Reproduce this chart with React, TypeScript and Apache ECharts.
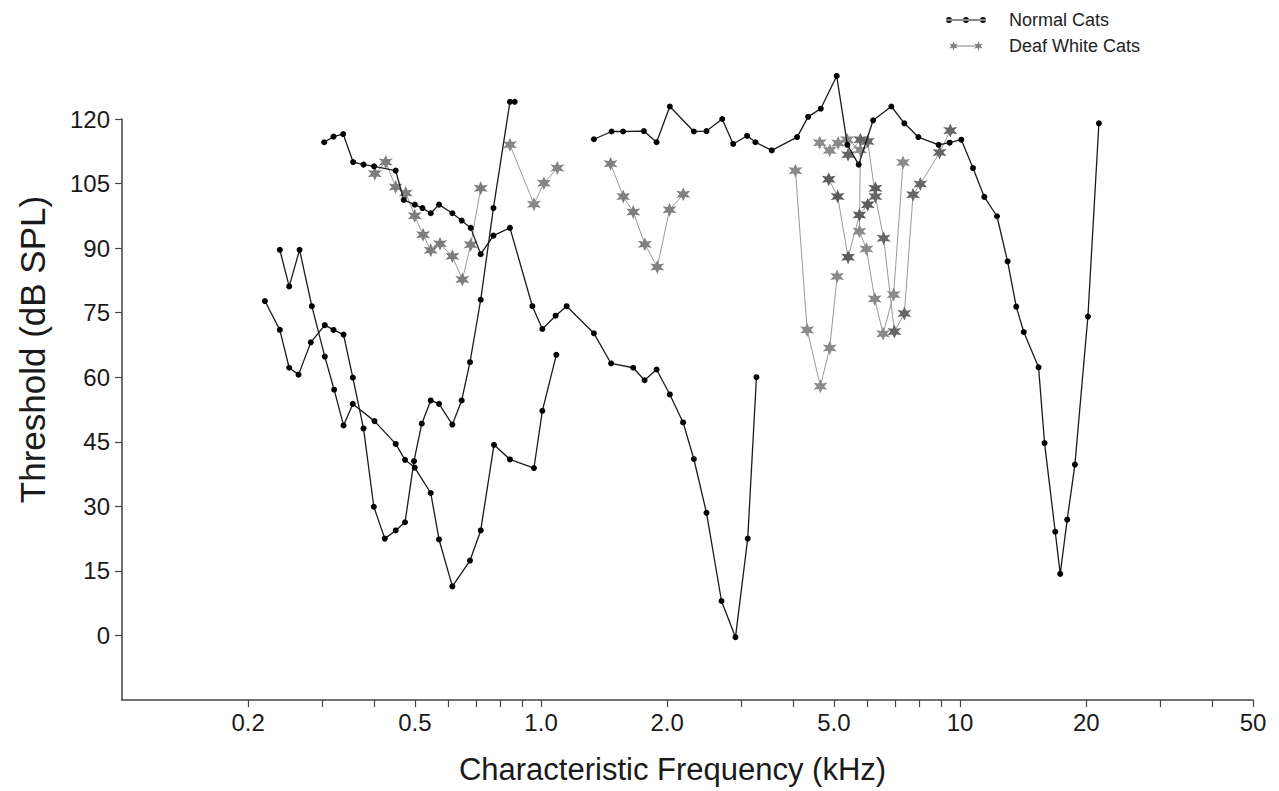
import React, { useEffect, useRef } from "react";
import * as echarts from "echarts";

// ---- axis ticks / labels ----
const FREQ_TICKS = [0.2, 0.3, 0.4, 0.5, 0.6, 0.7, 0.8, 0.9, 1, 2, 3, 4, 5, 6, 7, 8, 9, 10, 20, 30, 40, 50];
const FREQ_LABEL_VALUES = [0.2, 0.5, 1, 2, 5, 10, 20, 50];
const FREQ_LABELS = ["0.2", "0.5", "1.0", "2.0", "5.0", "10", "20", "50"];
const DB_TICKS = [0, 15, 30, 45, 60, 75, 90, 105, 120];

// ---- Normal cats tuning curves (kHz, dB SPL) ----
const normalA_f = [0.2193, 0.238, 0.2506, 0.2638, 0.2822, 0.3048, 0.3197, 0.3378, 0.3555, 0.377, 0.399, 0.4237, 0.4499, 0.4736, 0.4975, 0.5192, 0.5455, 0.5709, 0.6143, 0.6465, 0.6768, 0.7178, 0.7697, 0.8429, 0.8651];
const normalA_db = [77.7, 71.0, 62.2, 60.6, 68.1, 72.1, 71.0, 69.9, 59.9, 48.1, 29.9, 22.5, 24.4, 26.3, 40.5, 49.2, 54.6, 53.8, 49.0, 54.6, 63.5, 78.0, 99.3, 124.0, 124.0];

const normalB_f = [0.238, 0.2506, 0.2653, 0.2838, 0.3048, 0.3208, 0.3378, 0.3555, 0.4005, 0.4499, 0.4736, 0.4995, 0.5455, 0.5709, 0.6143, 0.6768, 0.7178, 0.7721, 0.8429, 0.9618, 1.0072, 1.0876];
const normalB_db = [89.6, 81.1, 89.6, 76.5, 64.8, 57.1, 48.8, 53.8, 49.8, 44.5, 40.8, 39.0, 33.1, 22.3, 11.4, 17.4, 24.4, 44.3, 40.9, 38.9, 52.2, 65.2];

const normalC_f = [0.3037, 0.3197, 0.3371, 0.3561, 0.377, 0.3996, 0.4499, 0.4702, 0.4995, 0.5212, 0.5455, 0.5709, 0.6143, 0.6465, 0.6795, 0.7178, 0.7697, 0.8429, 0.9534, 1.0072, 1.0834, 1.151, 1.3373, 1.4693, 1.6596, 1.766, 1.8866, 2.0291, 2.1822, 2.3154, 2.482, 2.6955, 2.9107, 3.1131, 3.266];
const normalC_db = [114.6, 115.9, 116.5, 110.0, 109.4, 109.0, 108.0, 101.2, 100.1, 99.3, 98.1, 100.1, 98.1, 96.4, 94.7, 88.6, 92.9, 94.7, 76.5, 71.2, 74.3, 76.5, 70.2, 63.2, 62.2, 59.3, 61.8, 56.0, 49.5, 41.0, 28.5, 8.0, -0.4, 22.5, 60.0];

const normalD_f = [1.3373, 1.4735, 1.5695, 1.7595, 1.8866, 2.0291, 2.3154, 2.482, 2.7061, 2.874, 3.1031, 3.248, 3.5531, 4.0839, 4.3376, 4.6504, 5.0758, 5.3827, 5.728, 6.2005, 6.8549, 7.3621, 7.9484, 8.8869, 9.4406, 10.067, 10.735, 11.422, 12.246, 12.981, 13.614, 14.187, 15.39, 15.905, 16.866, 17.335, 18.013, 18.793, 20.184, 21.441];
const normalD_db = [115.3, 117.1, 117.1, 117.2, 114.6, 122.9, 117.1, 117.2, 120.0, 114.2, 116.1, 114.6, 112.7, 115.8, 120.5, 122.4, 130.0, 114.0, 109.4, 119.7, 122.9, 119.0, 115.8, 114.0, 114.5, 115.2, 108.6, 101.9, 97.4, 86.9, 76.4, 70.5, 62.3, 44.7, 24.1, 14.3, 26.9, 39.7, 74.1, 119.0];

// ---- Deaf white cats tuning curves ----
const deaf1_f = [0.4012, 0.426, 0.4499, 0.4754, 0.4995, 0.5229, 0.5455, 0.574, 0.6143, 0.649, 0.6795, 0.7178];
const deaf1_db = [107.3, 110.0, 104.2, 102.8, 97.5, 93.1, 89.5, 91.0, 88.1, 82.7, 90.8, 103.9];

const deaf2_f = [0.8429, 0.9618, 1.016, 1.0935];
const deaf2_db = [114.0, 100.2, 105.1, 108.6];

const deaf3_f = [1.4655, 1.571, 1.6596, 1.7688, 1.894, 2.0258, 2.1847];
const deaf3_db = [109.6, 102.0, 98.4, 90.9, 85.6, 98.9, 102.5];

const deaf4_f = [4.0465, 4.3152, 4.6416, 4.8852, 5.0875];
const deaf4_db = [108.0, 71.0, 57.9, 66.8, 83.4];

const deaf5_f = [4.8594, 5.1039, 5.4038, 5.7504, 6.0189, 6.2794];
const deaf5_db = [106.0, 102.0, 87.9, 97.7, 100.1, 103.9];

const deaf6_f = [4.6238, 4.8852, 5.1156, 5.3741, 5.781, 5.7504, 5.9761, 6.2549, 6.5491, 6.9408, 7.3097];
const deaf6_db = [114.5, 112.7, 114.4, 115.2, 112.8, 93.9, 89.8, 78.2, 70.1, 79.2, 109.9];

const deaf7_f = [5.4038, 5.781, 6.0189, 6.2794, 6.5702, 6.968, 7.3621, 7.7217, 8.0365, 8.9363, 9.4754];
const deaf7_db = [111.7, 115.2, 114.8, 102.0, 92.3, 70.6, 74.8, 102.4, 104.9, 112.2, 117.3];

const STAR = "path://M12,0 L14.8,7.2 L22.39,6 L17.6,12 L22.39,18 L14.8,16.8 L12,24 L9.2,16.8 L1.61,18 L6.4,12 L1.61,6 L9.2,7.2 Z";
const LEGEND_DOTS = "path://M0,2.4 L40,2.4 L40,3.6 L0,3.6 Z M0,3 a3,3 0 1,0 6,0 a3,3 0 1,0 -6,0 Z M17,3 a3,3 0 1,0 6,0 a3,3 0 1,0 -6,0 Z M34,3 a3,3 0 1,0 6,0 a3,3 0 1,0 -6,0 Z";
const LEGEND_STARS = "path://M6,0 L7.25,3.835 L11.196,3 L8.5,6 L11.196,9 L7.25,8.165 L6,12 L4.75,8.165 L0.804,9 L3.5,6 L0.804,3 L4.75,3.835 Z M36,0 L37.25,3.835 L41.196,3 L38.5,6 L41.196,9 L37.25,8.165 L36,12 L34.75,8.165 L30.804,9 L33.5,6 L30.804,3 L34.75,3.835 Z M6,5.4 L36,5.4 L36,6.6 L6,6.6 Z";

const FONT = "'Liberation Sans', Arial, Helvetica, sans-serif";

function pts(f: number[], db: number[]) {
  return f.map((v, i) => [Math.log10(v), db[i]]);
}

function normalSeries(f: number[], db: number[]) {
  return {
    type: "line",
    name: "Normal Cats",
    data: pts(f, db),
    symbol: "circle",
    symbolSize: 6,
    clip: false,
    itemStyle: { color: "#000" },
    lineStyle: { color: "#1a1a1a", width: 1.3 },
    z: 3,
  };
}

function deafSeries(f: number[], db: number[], color: string) {
  return {
    type: "line",
    name: "Deaf White Cats",
    data: pts(f, db),
    symbol: STAR,
    symbolSize: 14,
    clip: false,
    itemStyle: { color },
    lineStyle: { color: "#9a9a9a", width: 1 },
    z: 2,
  };
}

export default function App() {
  const ref = useRef<HTMLDivElement>(null);
  useEffect(() => {
    if (!ref.current) return;
    const chart = echarts.init(ref.current, null, { renderer: "svg" });
    const tickLogs = FREQ_TICKS.map((v) => Math.log10(v));
    const labelLogs = FREQ_LABEL_VALUES.map((v) => Math.log10(v));
    chart.setOption({
      animation: false,
      backgroundColor: "#fff",
      textStyle: { fontFamily: FONT },
      grid: { left: 122, right: 26, top: 119, bottom: 91, containLabel: false },
      legend: {
        orient: "vertical",
        left: 941,
        top: 6,
        itemGap: 8,
        itemWidth: 40,
        itemHeight: 10,
        selectedMode: false,
        textStyle: { fontFamily: FONT, fontSize: 18, color: "#222", padding: [0, 0, 0, 18] },
        data: [
          { name: "Normal Cats", icon: LEGEND_DOTS, itemStyle: { color: "#111" } },
          { name: "Deaf White Cats", icon: LEGEND_STARS, itemStyle: { color: "#808080" } },
        ],
      },
      xAxis: {
        type: "value",
        min: -1,
        max: Math.log10(50),
        name: "Characteristic Frequency (kHz)",
        nameLocation: "middle",
        nameGap: 54,
        nameTextStyle: { fontFamily: FONT, fontSize: 31, color: "#1a1a1a", padding: [0, 30, 0, 0] },
        axisLine: { show: true, onZero: false, lineStyle: { color: "#444", width: 1.5 } },
        axisTick: { show: true, inside: false, length: 7, customValues: tickLogs, lineStyle: { color: "#444", width: 1.2 } },
        axisLabel: {
          customValues: labelLogs,
          fontFamily: FONT,
          fontSize: 24,
          color: "#1a1a1a",
          margin: 10,
          formatter: (v: number) => {
            const i = labelLogs.findIndex((l) => Math.abs(l - v) < 1e-6);
            return i >= 0 ? FREQ_LABELS[i] : "";
          },
        },
        splitLine: { show: false },
      },
      yAxis: {
        type: "value",
        min: -15,
        max: 120,
        interval: 15,
        name: "Threshold (dB SPL)",
        nameLocation: "middle",
        nameRotate: 90,
        nameGap: 72,
        nameTextStyle: { fontFamily: FONT, fontSize: 35, color: "#1a1a1a", padding: [0, 0, 0, 120] },
        axisLine: { show: true, onZero: false, lineStyle: { color: "#444", width: 1.5 } },
        axisTick: { show: true, inside: false, length: 7, customValues: DB_TICKS, lineStyle: { color: "#444", width: 1.2 } },
        axisLabel: { customValues: DB_TICKS, fontFamily: FONT, fontSize: 24, color: "#1a1a1a", margin: 12 },
        splitLine: { show: false },
      },
      series: [
        deafSeries(deaf1_f, deaf1_db, "#7d7d7d"),
        deafSeries(deaf2_f, deaf2_db, "#858585"),
        deafSeries(deaf3_f, deaf3_db, "#808080"),
        deafSeries(deaf4_f, deaf4_db, "#8a8a8a"),
        deafSeries(deaf5_f, deaf5_db, "#5c5c5c"),
        deafSeries(deaf6_f, deaf6_db, "#8a8a8a"),
        deafSeries(deaf7_f, deaf7_db, "#666666"),
        normalSeries(normalA_f, normalA_db),
        normalSeries(normalB_f, normalB_db),
        normalSeries(normalC_f, normalC_db),
        normalSeries(normalD_f, normalD_db),
      ],
    });
    return () => chart.dispose();
  }, []);
  return <div ref={ref} style={{ position: "fixed", left: 0, top: 0, width: 1279, height: 791, background: "#fff" }} />;
}
